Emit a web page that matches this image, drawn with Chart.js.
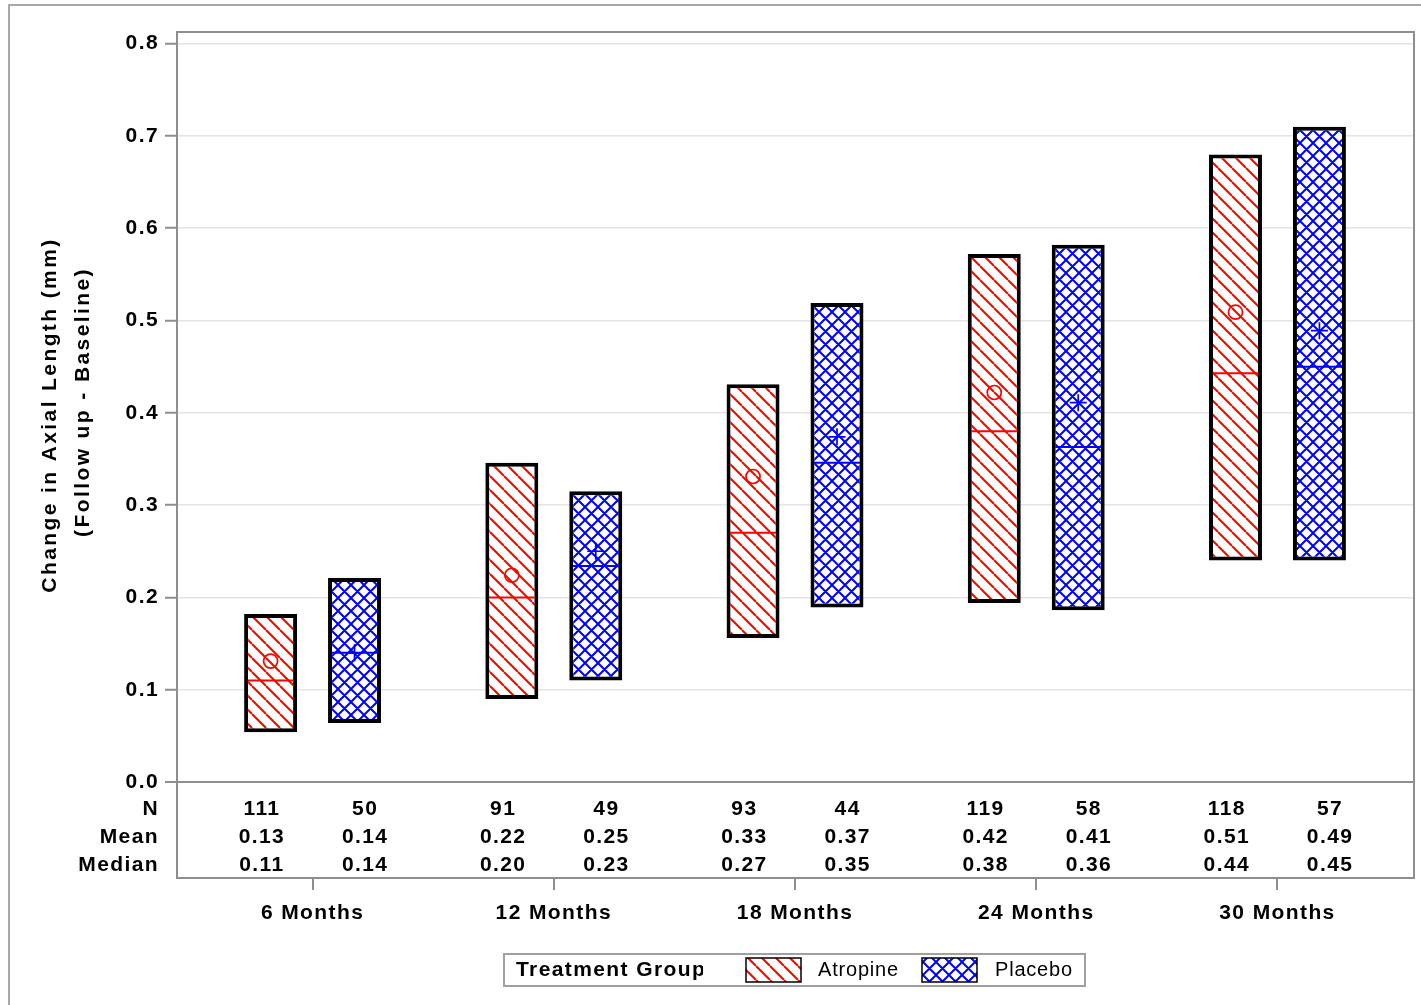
<!DOCTYPE html>
<html>
<head>
<meta charset="utf-8">
<title>Change in Axial Length</title>
<script src="https://cdn.jsdelivr.net/npm/chart.js@4.4.1/dist/chart.umd.min.js"></script>
<style>
  html, body { margin: 0; padding: 0; background: #fff; }
  canvas { display: block; }
</style>
</head>
<body>
<canvas id="axial" width="1421" height="1005"></canvas>
<script>
// visits on the x axis
var months = ["6 Months", "12 Months", "18 Months", "24 Months", "30 Months"];

// Atropine: box from q1 to q3, median line, mean marker
var atrQ1 = [0.054, 0.090, 0.156, 0.194, 0.240];
var atrQ3 = [0.182, 0.346, 0.431, 0.572, 0.680];
var atrMedian = [0.110, 0.200, 0.270, 0.380, 0.443];
var atrMean = [0.131, 0.224, 0.331, 0.422, 0.509];
var atrN = [111, 91, 93, 119, 118];

// Placebo
var plaQ1 = [0.064, 0.110, 0.189, 0.186, 0.240];
var plaQ3 = [0.221, 0.315, 0.519, 0.582, 0.710];
var plaMedian = [0.140, 0.234, 0.346, 0.363, 0.450];
var plaMean = [0.140, 0.250, 0.374, 0.411, 0.489];
var plaN = [50, 49, 44, 58, 57];

var yTicks = [0, 0.1, 0.2, 0.3, 0.4, 0.5, 0.6, 0.7, 0.8];
var rowLabels = ["N", "Mean", "Median"];

var FONT = "'Liberation Sans', Arial, sans-serif";
var frameColor = '#8e8e8e';

var canvas = document.getElementById('axial');
var mainCtx = canvas.getContext('2d');

function hatch(color, size, cross) {
  var c = document.createElement('canvas');
  c.width = size;
  c.height = size;
  var g = c.getContext('2d');
  g.fillStyle = '#fff';
  g.fillRect(0, 0, size, size);
  g.strokeStyle = color;
  g.lineWidth = 2;
  g.beginPath();
  for (var k = -1; k <= 1; k++) {
    g.moveTo(k * size, 0);
    g.lineTo(k * size + size, size);
    if (cross) {
      g.moveTo(k * size + size, 0);
      g.lineTo(k * size, size);
    }
  }
  g.stroke();
  return mainCtx.createPattern(c, 'repeat');
}

var redHatch = hatch('#ff0000', 14, false);
var blueHatch = hatch('#0000ff', 13, true);

function boxes(q1, q3) {
  var out = [];
  for (var i = 0; i < months.length; i++) {
    out.push({ x: i, y: [q1[i], q3[i]] });
  }
  return out;
}

var summaryPlugin = {
  id: 'summary',
  beforeDraw: function(chart) {
    var ctx = chart.ctx;
    ctx.save();
    ctx.fillStyle = '#fff';
    ctx.fillRect(0, 0, chart.width, chart.height);
    ctx.strokeStyle = '#a8a8a8';
    ctx.lineWidth = 2;
    ctx.beginPath();
    ctx.moveTo(9, chart.height);
    ctx.lineTo(9, 5);
    ctx.lineTo(chart.width, 5);
    ctx.stroke();
    ctx.restore();
    ctx.letterSpacing = '1.4px';
  },
  afterDatasetsDraw: function(chart) {
    var ctx = chart.ctx;
    var y = chart.scales.y;
    var groups = [
      [atrMedian, atrMean, '#ff0000', 'circle'],
      [plaMedian, plaMean, '#0000ff', 'plus']
    ];
    ctx.save();
    groups.forEach(function(s, d) {
      chart.getDatasetMeta(d).data.forEach(function(bar, i) {
        var half = bar.width / 2 - 3.5;
        var ym = y.getPixelForValue(s[0][i]);
        ctx.strokeStyle = s[2];
        ctx.lineWidth = 2;
        ctx.beginPath();
        ctx.moveTo(bar.x - half, ym);
        ctx.lineTo(bar.x + half, ym);
        ctx.stroke();

        var ya = y.getPixelForValue(s[1][i]);
        ctx.lineWidth = 1.7;
        ctx.beginPath();
        if (s[3] == 'circle') {
          ctx.arc(bar.x, ya, 7, 0, Math.PI * 2);
        } else {
          ctx.moveTo(bar.x - 8.5, ya);
          ctx.lineTo(bar.x + 8.5, ya);
          ctx.moveTo(bar.x, ya - 8.5);
          ctx.lineTo(bar.x, ya + 8.5);
        }
        ctx.stroke();
      });
    });
    ctx.restore();
  },
  afterDraw: function(chart) {
    var ctx = chart.ctx;
    var area = chart.chartArea;
    var x = chart.scales.x;
    var y = chart.scales.y;

    // top and right sides of the plot frame
    ctx.save();
    ctx.strokeStyle = frameColor;
    ctx.lineWidth = 2;
    ctx.beginPath();
    ctx.moveTo(area.left, area.top);
    ctx.lineTo(area.right, area.top);
    ctx.lineTo(area.right, area.bottom);
    ctx.stroke();

    // inset table N / Mean / Median
    var y0 = y.getPixelForValue(0);
    var rows = [[atrN, plaN], [atrMean, plaMean], [atrMedian, plaMedian]];
    ctx.font = 'bold 21px ' + FONT;
    ctx.fillStyle = '#000';
    ctx.textBaseline = 'middle';
    ctx.letterSpacing = '1.4px';
    rows.forEach(function(r, k) {
      var ty = y0 + 27.5 + k * 28;
      ctx.textAlign = 'right';
      ctx.fillText(rowLabels[k], 159, ty);
      ctx.textAlign = 'center';
      for (var i = 0; i < months.length; i++) {
        var a = k == 0 ? String(r[0][i]) : r[0][i].toFixed(2);
        var b = k == 0 ? String(r[1][i]) : r[1][i].toFixed(2);
        ctx.fillText(a, x.getPixelForValue(i - 0.214) + 1, ty);
        ctx.fillText(b, x.getPixelForValue(i + 0.214) + 1, ty);
      }
    });

    // y axis title, two lines
    ctx.letterSpacing = '2.4px';
    ctx.textAlign = 'center';
    ctx.save();
    ctx.translate(50, 415);
    ctx.rotate(-Math.PI / 2);
    ctx.fillText('Change in Axial Length (mm)', 0, 0);
    ctx.restore();
    ctx.save();
    ctx.translate(83, 402);
    ctx.rotate(-Math.PI / 2);
    ctx.fillText('(Follow up - Baseline)', 0, 0);
    ctx.restore();

    // legend
    ctx.letterSpacing = '1.4px';
    ctx.strokeStyle = '#a0a0a0';
    ctx.lineWidth = 2;
    ctx.strokeRect(504, 954, 581, 32);
    ctx.save();
    ctx.beginPath();
    ctx.rect(505, 955, 198, 30);
    ctx.clip();
    ctx.textAlign = 'left';
    ctx.fillText('Treatment Group', 516, 970);
    ctx.restore();

    var items = [['Atropine', redHatch, 746, 818], ['Placebo', blueHatch, 922, 995]];
    ctx.font = '20px ' + FONT;
    ctx.letterSpacing = '0.8px';
    ctx.textAlign = 'left';
    items.forEach(function(it) {
      ctx.fillStyle = it[1];
      ctx.fillRect(it[2], 958, 55, 24);
      ctx.strokeStyle = '#000';
      ctx.lineWidth = 1.5;
      ctx.strokeRect(it[2], 958, 55, 24);
      ctx.fillStyle = '#000';
      ctx.fillText(it[0], it[3], 970);
    });
    ctx.restore();
  }
};

new Chart(canvas, {
  type: 'bar',
  data: {
    datasets: [
      {
        label: 'Atropine',
        data: boxes(atrQ1, atrQ3),
        backgroundColor: redHatch,
        borderColor: '#000',
        borderWidth: 4,
        borderSkipped: false
      },
      {
        label: 'Placebo',
        data: boxes(plaQ1, plaQ3),
        backgroundColor: blueHatch,
        borderColor: '#000',
        borderWidth: 4,
        borderSkipped: false
      }
    ]
  },
  options: {
    responsive: false,
    devicePixelRatio: 1,
    animation: false,
    categoryPercentage: 0.696,
    barPercentage: 0.631,
    layout: { padding: { top: 32, right: 7, left: 0, bottom: 0 } },
    plugins: {
      legend: { display: false },
      title: { display: false },
      tooltip: { enabled: false }
    },
    scales: {
      x: {
        type: 'linear',
        min: -0.562,
        max: 4.566,
        offset: false,
        afterBuildTicks: function(s) {
          s.ticks = months.map(function(m, i) { return { value: i }; });
        },
        afterFit: function(s) { s.height = 127; },
        ticks: {
          autoSkip: false,
          maxRotation: 0,
          padding: 11,
          color: '#000',
          font: { family: FONT, size: 21, weight: 'bold' },
          callback: function(v) { return months[v]; }
        },
        grid: {
          offset: false,
          drawOnChartArea: false,
          drawTicks: true,
          tickLength: 12,
          color: frameColor,
          lineWidth: 2
        },
        border: { color: frameColor, width: 2 }
      },
      y: {
        min: -0.104,
        max: 0.8126,
        afterBuildTicks: function(s) {
          s.ticks = yTicks.map(function(v) { return { value: v }; });
        },
        afterFit: function(s) { s.width = 177; },
        ticks: {
          padding: 6,
          color: '#000',
          font: { family: FONT, size: 21, weight: 'bold' },
          callback: function(v) { return v.toFixed(1); }
        },
        grid: {
          color: function(c) { return c.tick && c.tick.value === 0 ? frameColor : '#e4e4e4'; },
          lineWidth: function(c) { return c.tick && c.tick.value === 0 ? 2 : 1.5; },
          tickColor: frameColor,
          tickWidth: 2,
          tickLength: 12
        },
        border: { color: frameColor, width: 2 }
      }
    }
  },
  plugins: [summaryPlugin]
});
</script>
</body>
</html>
